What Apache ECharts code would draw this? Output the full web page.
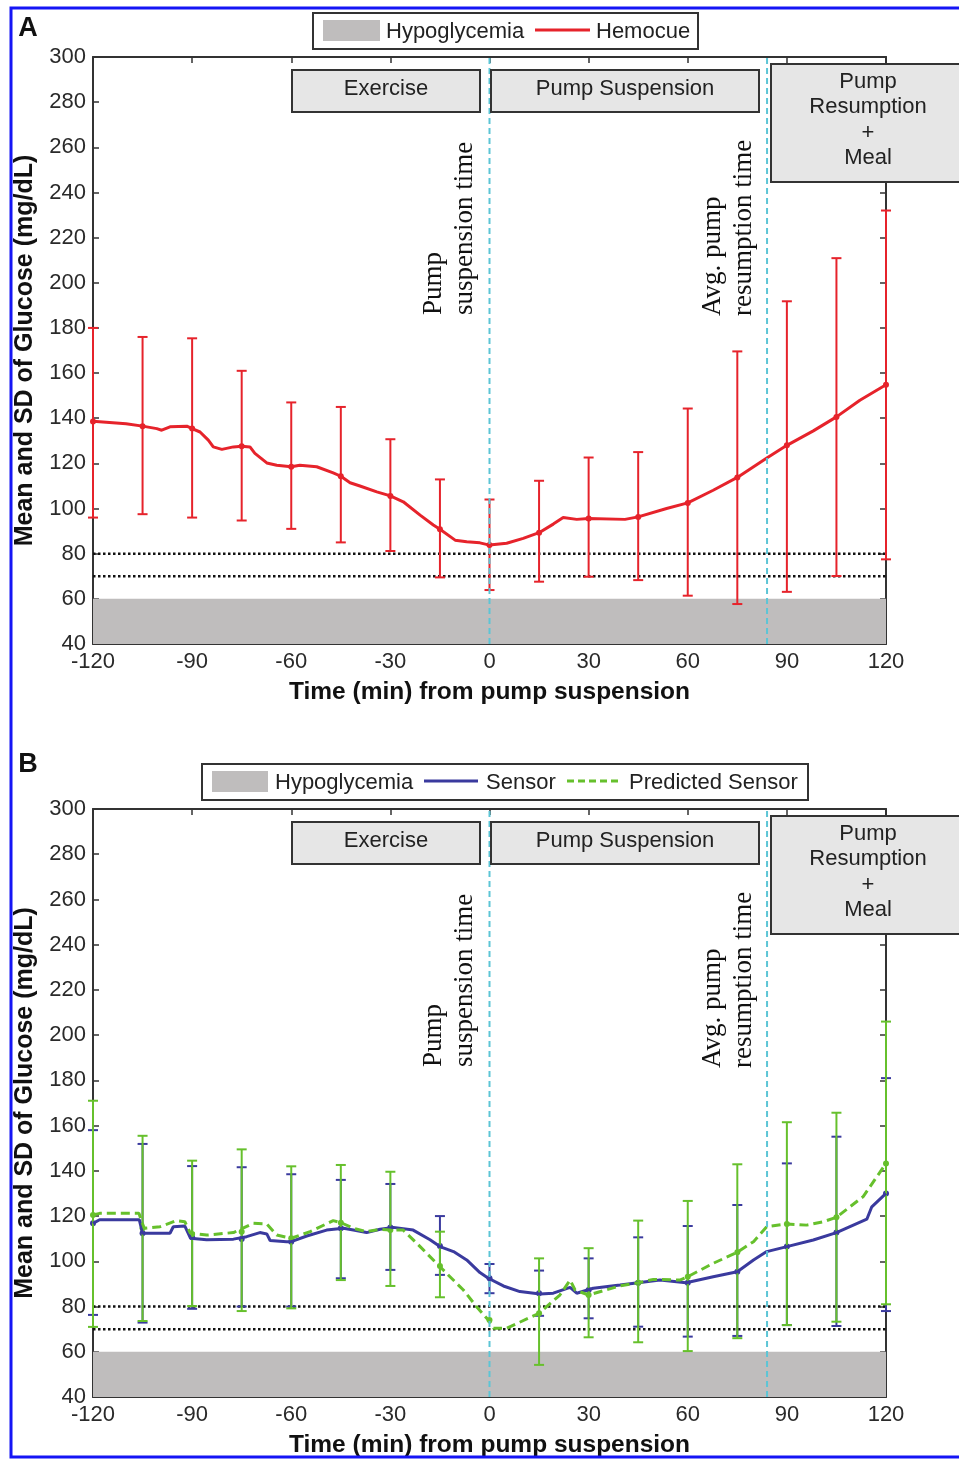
<!DOCTYPE html>
<html><head><meta charset="utf-8">
<script src="https://cdn.jsdelivr.net/npm/echarts@6/dist/echarts.min.js"></script>
<style>html,body{margin:0;padding:0;background:#fff}#c{width:959px;height:1459px}</style>
</head><body><div id="c"></div>
<script>
// ---------- DATA ----------
const xTicks = [-120, -90, -60, -30, 0, 30, 60, 90, 120];
const suspensionTime = 0;
const resumptionTime = 84;
const hypoTop = 60;
const thresholds = [80, 70];

// Panel A: Hemocue mean curve
const hemoT = [-120,-110,-105,-100.7,-99.2,-96.7,-91.6,-90,-87.6,-85.1,-83.6,-81,-77.5,-75,-72.5,-71,-67.4,-64.4,-60,-57.4,-52.3,-47.3,-45,-42.2,-39.2,-34.1,-30,-26.1,-21,-17,-15,-10.4,-6.9,-2.9,0,5.2,10.2,15,19.3,22.3,26.4,30,41,45,53.6,60,67.7,75,83.7,90,98,105,112.1,120];
const hemoV = [138.7,137.6,136.5,135.4,134.7,136.2,136.5,135.4,133.9,130.3,127.3,126.2,127.3,127.6,127.3,124.4,120.2,119.2,118.5,119.2,118.5,115.8,114.3,111.4,110,107.4,105.6,103,97.1,92.7,90.8,86,85.3,84.8,83.8,84.6,86.8,89.3,93.1,96,95.2,95.6,95.2,96.3,100,102.5,108.1,113.8,122.2,128,134.4,140.6,148,154.8];

// Error-bar times (both panels)
const barT = [-120,-105,-90,-75,-60,-45,-30,-15,0,15,30,45,60,75,90,105,120];
const hemoMean = [138.5,136.5,135.4,127.6,118.5,114.3,105.6,90.8,83.8,89.3,95.6,96.3,102.5,113.8,128,140.6,154.8];
const hemoLow  = [96,97.5,96,94.7,91,85,81.2,69.5,63.9,67.6,69.8,68.3,61.4,57.7,63.1,70.1,77.5];
const hemoHigh = [180,176,175.4,161,147,145,130.7,112.9,104,112.3,122.6,125,144.3,169.6,191.8,210.9,232];

// Panel B: Sensor mean curve
const sensT = [-120,-118,-106,-105,-96.7,-95.7,-92.2,-90.5,-85.6,-77.5,-73.5,-69.5,-67.4,-66.4,-61.4,-60,-55.3,-49.3,-44.2,-41.2,-37.2,-33.1,-29.1,-23.1,-18,-15,-10.9,-6.9,-2.9,-0.35,4.2,9.2,15.3,19.3,24.4,26.4,31.4,39.5,45,51.6,59.5,67.7,75,79.9,83.9,90,98,105,114.2,115.7,120];
const sensV = [116.8,118.4,118.4,112.4,112.4,115.3,115.6,110.2,109.5,109.8,110.9,112.7,112.1,109.2,108.7,108.7,111.2,113.8,114.6,113.8,112.7,114.2,115,113.8,109.5,106.5,104.3,100.6,95,92.5,89.1,86.6,85.5,85.9,88.5,85.9,88.1,89.5,90.5,91.7,90.5,93.2,95.4,100.6,104.3,106.5,109.4,112.7,118.6,124.1,130];
// Panel B: Predicted sensor mean curve
const predT = [-120,-118,-106.1,-104.5,-99.7,-94.7,-92.2,-90.5,-85.6,-77.5,-71.5,-67.4,-64.4,-60,-54.3,-47.3,-45,-41.2,-37.2,-33.1,-30,-26.1,-21,-15,-7.9,-3.9,-0.35,1.2,5.2,15,21.3,24.4,25.9,30,39.5,45,49.6,57.6,60,67.7,75,79.9,83.9,90,96,101,105,113.1,120];
const predV = [120.5,121.2,121.2,114.6,115.3,118,117.5,112.4,111.6,112.7,116.8,116.5,111.6,110.2,113.1,118,117.1,114.6,113.1,114.2,113.8,113.8,106.5,97.6,87.3,79.9,74,70.4,70.4,77,85.1,91.7,87.3,85.1,89.1,90.5,92,91.7,93.2,99.1,104,108.7,115.3,116.5,116,117.5,119.5,128.6,143.3];

const sensMean = [116.8,112.4,110.6,109.9,108.7,114.6,115,106.8,92.5,85.9,87.3,90.5,90.5,95.4,106.5,112.7,130];
const sensLow  = [76.3,72.9,79,80,80,92.5,96.2,94,85.9,75.9,74.8,71.1,66.7,67,71.8,71.4,78];
const sensHigh = [158,151.9,142.1,141.6,138.5,136,134.2,120,98.8,95.9,101.3,110.6,115.6,124.9,143.3,155.1,181];

const predMean = [120.5,114.6,112.1,113.1,110.2,117.1,113.8,97.9,74,77,85.1,90.5,93.2,104,116.5,119.5,143.3];
const predLow  = [71,73.6,80.2,78,79.2,91.7,89.1,84.1,null,54.2,66.4,64.2,60.3,66,71.8,73.3,81];
const predHigh = [171,155.5,144.5,149.5,142,142.6,139.6,113.1,null,101.3,105.8,118,126.7,142.9,161.5,165.7,206];

// ---------- STYLE ----------
const SANS = '"Liberation Sans", Arial, sans-serif';
const SERIF = '"Liberation Serif", "Times New Roman", serif';
const RED = '#e6232b', BLUE = '#3a3a9e', GREEN = '#66c02c', CYAN = '#5cc5d6', GRAY = '#bfbdbd', BOXF = '#e6e6e6';
const AX = '#333';

const chart = echarts.init(document.getElementById('c'), null, {renderer: 'canvas'});

function pairXY(ts, vs) { return ts.map((t, i) => [t, vs[i]]); }

function xAxes(gi) {
  return [{
    type: 'value', gridIndex: gi, position: 'bottom', min: xTicks[0], max: xTicks[xTicks.length-1], interval: 30,
    axisLine: {show: true, onZero: false, lineStyle: {color: AX, width: 2}},
    axisTick: {show: true, inside: true, length: 6, lineStyle: {color: AX, width: 1.5}},
    axisLabel: {margin: 7, fontSize: 22, fontFamily: SANS, color: '#2a2a2a'},
    splitLine: {show: false},
    name: 'Time (min) from pump suspension', nameLocation: 'middle', nameGap: 36,
    nameTextStyle: {fontSize: 24.5, fontWeight: 'bold', fontFamily: SANS, color: '#111'}
  }, {
    type: 'value', gridIndex: gi, position: 'top', min: xTicks[0], max: xTicks[xTicks.length-1], interval: 30,
    axisLine: {show: true, onZero: false, lineStyle: {color: AX, width: 2}},
    axisTick: {show: true, inside: true, length: 6, lineStyle: {color: AX, width: 1.5}},
    axisLabel: {show: false}, splitLine: {show: false}
  }];
}
function yAxes(gi) {
  return [{
    type: 'value', gridIndex: gi, position: 'left', min: 40, max: 300, interval: 20,
    axisLine: {show: true, onZero: false, lineStyle: {color: AX, width: 2}},
    axisTick: {show: true, inside: true, length: 6, lineStyle: {color: AX, width: 1.5}},
    axisLabel: {margin: 7, fontSize: 22, fontFamily: SANS, color: '#2a2a2a'},
    splitLine: {show: false},
    name: 'Mean and SD of Glucose (mg/dL)', nameLocation: 'middle', nameGap: 55,
    nameTextStyle: {fontSize: 25, fontWeight: 'bold', fontFamily: SANS, color: '#111'}
  }, {
    type: 'value', gridIndex: gi, position: 'right', min: 40, max: 300, interval: 20,
    axisLine: {show: true, onZero: false, lineStyle: {color: AX, width: 2}},
    axisTick: {show: true, inside: true, length: 6, lineStyle: {color: AX, width: 1.5}},
    axisLabel: {show: false}, splitLine: {show: false}
  }];
}

function errSeries(name, gi, mean, low, high, color, z) {
  return {
    name: name, type: 'custom', xAxisIndex: gi*2, yAxisIndex: gi*2, z: z,
    data: barT.map((t, i) => [t, mean[i]]),
    encode: {x: 0, y: 1},
    renderItem: function (params, api) {
      const i = params.dataIndex;
      const t = api.value(0);
      const ch = [];
      if (low[i] != null && high[i] != null) {
        const a = api.coord([t, high[i]]), b = api.coord([t, low[i]]);
        ch.push({type: 'line', shape: {x1: a[0], y1: a[1], x2: b[0], y2: b[1]}, style: {stroke: color, lineWidth: 2}});
        ch.push({type: 'line', shape: {x1: a[0]-5, y1: a[1], x2: a[0]+5, y2: a[1]}, style: {stroke: color, lineWidth: 2}});
        ch.push({type: 'line', shape: {x1: b[0]-5, y1: b[1], x2: b[0]+5, y2: b[1]}, style: {stroke: color, lineWidth: 2}});
      }
      const m = api.coord([t, mean[i]]);
      ch.push({type: 'circle', shape: {cx: m[0], cy: m[1], r: 3}, style: {fill: color}});
      return {type: 'group', children: ch};
    }
  };
}

function baseSeries(gi) {
  const s = [];
  s.push({type: 'line', xAxisIndex: gi*2, yAxisIndex: gi*2, z: 1, silent: true, showSymbol: false,
    data: [[xTicks[0], hypoTop], [xTicks[xTicks.length-1], hypoTop]],
    lineStyle: {width: 0, opacity: 0}, areaStyle: {color: GRAY, opacity: 1, origin: 'start'}});
  thresholds.forEach(v => s.push({type: 'line', xAxisIndex: gi*2, yAxisIndex: gi*2, z: 2, silent: true, showSymbol: false,
    data: [[xTicks[0], v], [xTicks[xTicks.length-1], v]],
    lineStyle: {color: '#111', width: 2.5, type: [2.5, 2.5]}}));
  return s;
}
function cyanSeries(gi) {
  return [suspensionTime, resumptionTime].map(t => ({type: 'line', xAxisIndex: gi*2, yAxisIndex: gi*2, z: 10, silent: true, showSymbol: false,
    data: [[t, 40], [t, 300]], lineStyle: {color: CYAN, width: 2, type: [6, 4]}}));
}

const series = [].concat(
  baseSeries(0),
  [{name: 'Hemocue', type: 'line', xAxisIndex: 0, yAxisIndex: 0, z: 4, showSymbol: false, data: pairXY(hemoT, hemoV), lineStyle: {color: RED, width: 3}}],
  [errSeries('Hemocue SD', 0, hemoMean, hemoLow, hemoHigh, RED, 5)],
  cyanSeries(0),
  baseSeries(1),
  [errSeries('Sensor SD', 1, sensMean, sensLow, sensHigh, BLUE, 3)],
  [errSeries('Predicted SD', 1, predMean, predLow, predHigh, GREEN, 4)],
  [{name: 'Sensor', type: 'line', xAxisIndex: 2, yAxisIndex: 2, z: 5, showSymbol: false, data: pairXY(sensT, sensV), lineStyle: {color: BLUE, width: 3}}],
  [{name: 'Predicted Sensor', type: 'line', xAxisIndex: 2, yAxisIndex: 2, z: 6, showSymbol: false, data: pairXY(predT, predV), lineStyle: {color: GREEN, width: 3, type: [9, 5]}}],
  cyanSeries(1)
);

// ---------- GRAPHICS (annotations, legends) ----------
function txt(x, y, text, font, opts) {
  opts = opts || {};
  return Object.assign({type: 'text', x: x, y: y, z: 101, silent: true,
    style: {text: text, font: font, fill: opts.fill || '#222', align: opts.align || 'center', textAlign: opts.align || 'center',
      verticalAlign: 'middle', textVerticalAlign: 'middle', lineHeight: opts.lineHeight}}, opts.extra || {});
}
function rect(x, y, w, h, fill, stroke, lw) {
  return {type: 'rect', z: 100, silent: true, shape: {x: x, y: y, width: w, height: h},
    style: {fill: fill, stroke: stroke || null, lineWidth: lw || 0}};
}
function panelGraphics(dy) {
  const g = [];
  g.push(rect(292, 70+dy, 188, 42, BOXF, '#333', 2));
  g.push(txt(386, 89+dy, 'Exercise', '22px ' + SANS));
  g.push(rect(491, 70+dy, 268, 42, BOXF, '#333', 2));
  g.push(txt(625, 89+dy, 'Pump Suspension', '22px ' + SANS));
  g.push(rect(771, 64+dy, 220, 118, BOXF, '#333', 2));
  g.push(txt(868, 120+dy, 'Pump\nResumption\n+\nMeal', '22px ' + SANS, {lineHeight: 25.3}));
  g.push(txt(449, 315+dy, 'Pump\nsuspension time', '27px ' + SERIF, {align: 'left', lineHeight: 31, fill: '#111', extra: {rotation: Math.PI/2}}));
  g.push(txt(728, 316+dy, 'Avg. pump\nresumption time', '27px ' + SERIF, {align: 'left', lineHeight: 31, fill: '#111', extra: {rotation: Math.PI/2}}));
  return g;
}
const graphics = [].concat(
  [{type: 'rect', z: 120, silent: true, shape: {x: 11, y: 8, width: 1100, height: 1449}, style: {fill: 'none', stroke: '#1515f5', lineWidth: 3}}],
  [txt(28, 28.5, 'A', 'bold 27px ' + SANS, {fill: '#111'}), txt(28, 765, 'B', 'bold 27px ' + SANS, {fill: '#111'})],
  panelGraphics(0), panelGraphics(752),
  // legend A
  [rect(313, 13, 385, 36, '#fff', '#333', 2),
   rect(323, 20, 57, 21, GRAY),
   txt(386, 31.5, 'Hypoglycemia', '22px ' + SANS, {align: 'left'}),
   {type: 'line', z: 101, silent: true, shape: {x1: 535, y1: 30, x2: 590, y2: 30}, style: {stroke: RED, lineWidth: 3}},
   txt(596, 31.5, 'Hemocue', '22px ' + SANS, {align: 'left'})],
  // legend B
  [rect(202, 764, 606, 36, '#fff', '#333', 2),
   rect(212, 771, 56, 21, GRAY),
   txt(275, 782.5, 'Hypoglycemia', '22px ' + SANS, {align: 'left'}),
   {type: 'line', z: 101, silent: true, shape: {x1: 424, y1: 781, x2: 478, y2: 781}, style: {stroke: BLUE, lineWidth: 3}},
   txt(486, 782.5, 'Sensor', '22px ' + SANS, {align: 'left'}),
   {type: 'line', z: 101, silent: true, shape: {x1: 567, y1: 781, x2: 621, y2: 781}, style: {stroke: GREEN, lineWidth: 3, lineDash: [7, 4]}},
   txt(629, 782.5, 'Predicted Sensor', '22px ' + SANS, {align: 'left'})]
);

chart.setOption({
  animation: false,
  backgroundColor: '#fff',
  grid: [
    {left: 93, top: 57, width: 793, height: 587},
    {left: 93, top: 809, width: 793, height: 588}
  ],
  xAxis: [].concat(xAxes(0), xAxes(1)),
  yAxis: [].concat(yAxes(0), yAxes(1)),
  series: series,
  graphic: graphics
});
</script></body></html>
